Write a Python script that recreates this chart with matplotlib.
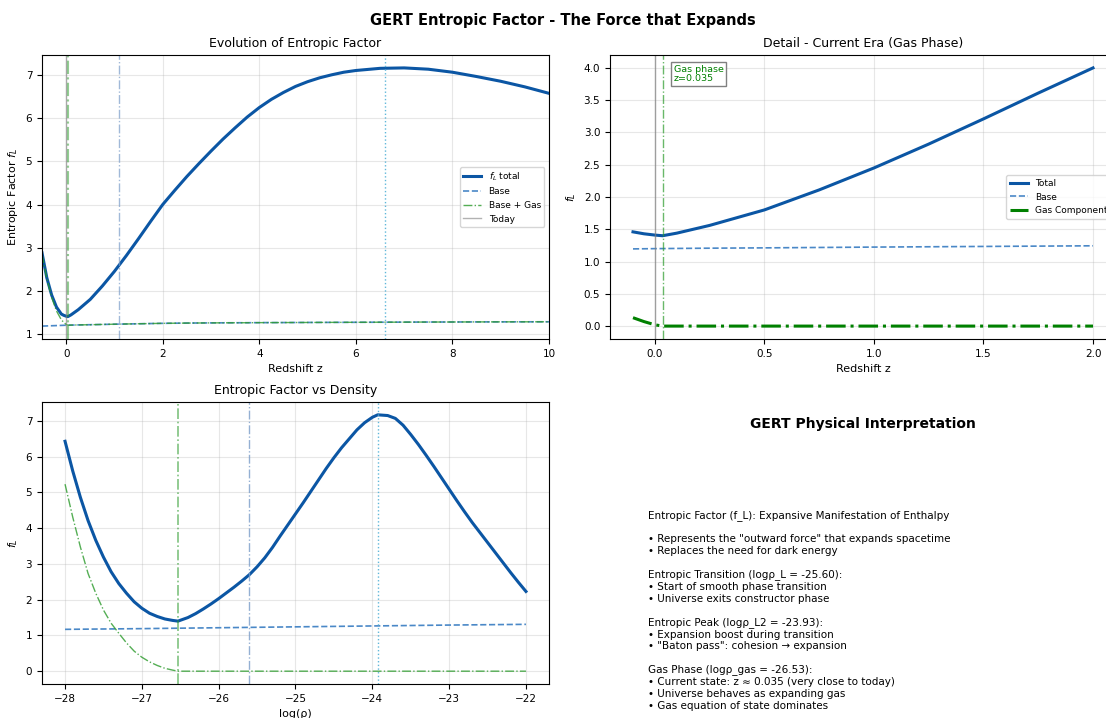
import matplotlib
matplotlib.use("Agg")
import matplotlib.pyplot as plt
import numpy as np

# redshift grid and entropic factor from the model run
z = [-0.5, -0.4, -0.3, -0.2, -0.1, -0.05, 0.0, 0.035, 0.1, 0.25, 0.5, 0.75,
     1.0, 1.25, 1.5, 1.75, 2.0, 2.25, 2.5, 2.75, 3.0, 3.25, 3.5, 3.75, 4.0,
     4.25, 4.5, 4.75, 5.0, 5.25, 5.5, 5.75, 6.0, 6.5, 7.0, 7.5, 8.0, 8.5, 9.0,
     9.5, 10.0]
f_total = [2.88, 2.3, 1.9, 1.62, 1.46, 1.43, 1.41, 1.40, 1.44, 1.56, 1.80,
           2.11, 2.45, 2.82, 3.21, 3.61, 4.0, 4.33, 4.65, 4.95, 5.24, 5.52, 5.78,
           6.03, 6.25, 6.44, 6.6, 6.74, 6.85, 6.94, 7.01, 7.07, 7.11, 7.16, 7.17,
           7.14, 7.07, 6.97, 6.86, 6.73, 6.58]
f_base = [1.18, 1.184, 1.188, 1.192, 1.196, 1.198, 1.2, 1.201, 1.203, 1.207,
          1.212, 1.218, 1.224, 1.229, 1.234, 1.239, 1.244, 1.247, 1.25, 1.252,
          1.254, 1.256, 1.257, 1.258, 1.26, 1.261, 1.262, 1.263, 1.264, 1.265,
          1.266, 1.267, 1.268, 1.27, 1.272, 1.274, 1.275, 1.277, 1.278, 1.279,
          1.28]
f_gas = [1.67, 1.1, 0.66, 0.34, 0.13, 0.07, 0.02] + [0.0] * 34

# same quantities against log density
logrho = [-28.0, -27.9, -27.8, -27.7, -27.6, -27.5, -27.4, -27.3, -27.2, -27.1,
          -27.0, -26.9, -26.8, -26.7, -26.6, -26.53, -26.4, -26.3, -26.2, -26.1,
          -26.0, -25.9, -25.8, -25.7, -25.6, -25.5, -25.4, -25.3, -25.2, -25.1,
          -25.0, -24.9, -24.8, -24.7, -24.6, -24.5, -24.4, -24.3, -24.2, -24.1,
          -24.0, -23.93, -23.8, -23.7, -23.6, -23.5, -23.4, -23.3, -23.2, -23.1,
          -23.0, -22.9, -22.8, -22.7, -22.6, -22.5, -22.4, -22.3, -22.2, -22.1,
          -22.0]
rho_total = [6.43, 5.6, 4.86, 4.21, 3.66, 3.19, 2.78, 2.45, 2.18, 1.94, 1.76,
             1.62, 1.53, 1.46, 1.42, 1.40, 1.50, 1.61, 1.74, 1.88, 2.03, 2.19,
             2.35, 2.52, 2.7, 2.92, 3.17, 3.46, 3.78, 4.09, 4.4, 4.71, 5.03, 5.35,
             5.67, 5.97, 6.25, 6.5, 6.75, 6.95, 7.1, 7.17, 7.15, 7.07, 6.88, 6.62,
             6.34, 6.04, 5.73, 5.41, 5.09, 4.77, 4.46, 4.16, 3.88, 3.6, 3.32,
             3.04, 2.76, 2.49, 2.23]
rho_base_x = [-28, -27, -26, -25, -24, -23, -22]
rho_base = [1.17, 1.19, 1.215, 1.24, 1.265, 1.29, 1.31]
rho_gas_x = [-28.0, -27.9, -27.8, -27.7, -27.6, -27.5, -27.4, -27.3, -27.2,
             -27.1, -27.0, -26.9, -26.8, -26.7, -26.6, -26.53, -22.0]
rho_gas = [5.23, 4.31, 3.47, 2.73, 2.18, 1.71, 1.34, 1.06, 0.79, 0.56, 0.39,
           0.26, 0.16, 0.08, 0.03, 0.0, 0.0]

z_gas = 0.035
z_trans = 1.1
z_peak = 6.6
logrho_gas = -26.53
logrho_L = -25.60
logrho_L2 = -23.93

C_TOTAL = '#0b56a4'
C_BASE = '#4a88c7'
C_GAS = '#2a9a2a'
C_TRANS = '#7a9cc8'
C_PEAK = '#4fb0d6'

W, H = 1106, 718
fig = plt.figure(figsize=(W / 100, H / 100), dpi=100)


def box(l, t, w, h):
    return [l / W, 1 - (t + h) / H, w / W, h / H]


fig.suptitle('GERT Entropic Factor - The Force that Expands', fontsize=10.5,
             fontweight='bold', x=563 / W, y=1 - 21 / H, va='center')

# --- evolution with redshift
ax1 = fig.add_axes(box(42, 55, 507, 284))
base_gas = np.array(f_base) + np.array(f_gas)
ax1.plot(z, f_total, color=C_TOTAL, lw=2.2, label='$f_L$ total')
ax1.plot(z, f_base, '--', color=C_BASE, lw=1.2, label='Base')
ax1.plot(z, base_gas, '-.', color=C_GAS, lw=1.0, alpha=0.8, label='Base + Gas')
ax1.axvline(0, color='grey', lw=1, alpha=0.6, label='Today')
ax1.axvline(z_gas, color=C_GAS, ls='-.', lw=1.5, alpha=0.5)
ax1.axvline(z_trans, color=C_TRANS, ls='-.', lw=1, alpha=0.7)
ax1.axvline(z_peak, color=C_PEAK, ls=':', lw=1, alpha=0.9)
ax1.set_xlim(-0.5, 10)
ax1.set_xlabel('Redshift z', fontsize=8)
ax1.set_ylabel('Entropic Factor $f_L$', fontsize=8)
ax1.set_title('Evolution of Entropic Factor', fontsize=9)
ax1.legend(loc='center right', fontsize=6.5)
ax1.grid(True, alpha=0.3)
ax1.tick_params(labelsize=7.5)

# --- zoom on the current era
ax2 = fig.add_axes(box(610, 55, 506, 284))
zz = np.array(z)
sel = (zz >= -0.1) & (zz <= 2.0)
ax2.plot(zz[sel], np.array(f_total)[sel], color=C_TOTAL, lw=2.2, label='Total')
ax2.plot(zz[sel], np.array(f_base)[sel], '--', color=C_BASE, lw=1.2, label='Base')
ax2.plot(zz[sel], np.array(f_gas)[sel], '-.', color='green', lw=2.2,
         label='Gas Component')
ax2.axvline(0, color='grey', lw=1, alpha=0.7)
ax2.axvline(z_gas, color=C_GAS, ls='-.', lw=1, alpha=0.7)
ax2.text(z_gas + 0.05, 4.05, f'Gas phase\nz={z_gas}', color='green', fontsize=6.8,
         va='top', linespacing=1.1,
         bbox=dict(boxstyle='square,pad=0.3', facecolor='white', edgecolor='grey'))
ax2.set_xlabel('Redshift z', fontsize=8)
ax2.set_ylabel('$f_L$', fontsize=8)
ax2.set_title('Detail - Current Era (Gas Phase)', fontsize=9)
ax2.legend(loc='center right', fontsize=6.5)
ax2.grid(True, alpha=0.3)
ax2.tick_params(labelsize=7.5)

# --- against density
ax3 = fig.add_axes(box(42, 402, 507, 282))
ax3.plot(logrho, rho_total, color=C_TOTAL, lw=2.2)
ax3.plot(rho_base_x, rho_base, '--', color=C_BASE, lw=1.2)
ax3.plot(rho_gas_x, rho_gas, '-.', color=C_GAS, lw=1.0, alpha=0.8)
ax3.axvline(logrho_gas, color=C_GAS, ls='-.', lw=1.2, alpha=0.6)
ax3.axvline(logrho_L, color=C_TRANS, ls='-.', lw=1, alpha=0.8)
ax3.axvline(logrho_L2, color=C_PEAK, ls=':', lw=1, alpha=0.9)
ax3.set_xlabel('log(ρ)', fontsize=8)
ax3.set_ylabel('$f_L$', fontsize=8)
ax3.set_title('Entropic Factor vs Density', fontsize=9)
ax3.grid(True, alpha=0.3)
ax3.tick_params(labelsize=7.5)

# --- interpretation panel
fig.text(863 / W, 1 - 424 / H, 'GERT Physical Interpretation', fontsize=10,
         fontweight='bold', ha='center', va='center')
notes = (
    "Entropic Factor (f_L): Expansive Manifestation of Enthalpy\n"
    "\n"
    "• Represents the \"outward force\" that expands spacetime\n"
    "• Replaces the need for dark energy\n"
    "\n"
    f"Entropic Transition (logρ_L = {logrho_L:.2f}):\n"
    "• Start of smooth phase transition\n"
    "• Universe exits constructor phase\n"
    "\n"
    f"Entropic Peak (logρ_L2 = {logrho_L2:.2f}):\n"
    "• Expansion boost during transition\n"
    "• \"Baton pass\": cohesion → expansion\n"
    "\n"
    f"Gas Phase (logρ_gas = {logrho_gas:.2f}):\n"
    f"• Current state: z ≈ {z_gas} (very close to today)\n"
    "• Universe behaves as expanding gas\n"
    "• Gas equation of state dominates"
)
fig.text(648 / W, 1 - 510 / H, notes, fontsize=7.5, va='top', ha='left',
         linespacing=1.21)

fig.savefig('out.png', dpi=100)
